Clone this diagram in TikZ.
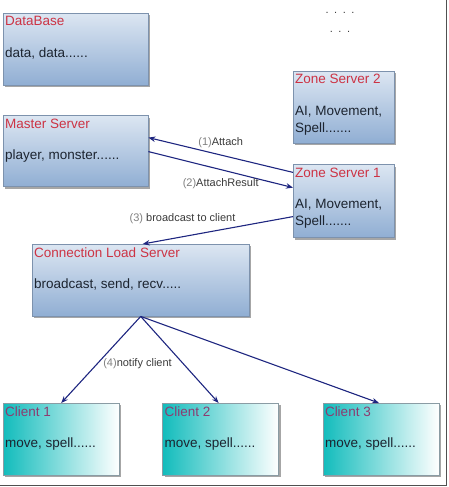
\documentclass[tikz,border=0pt]{standalone}
\usepackage{fontspec}
\setmainfont{Liberation Sans}
\usepackage{xcolor}
\usetikzlibrary{arrows.meta, positioning, calc, shadows}

\definecolor{boxtop}{HTML}{DCE6F2}
\definecolor{boxbottom}{HTML}{90AED3}
\definecolor{boxline}{HTML}{7D92AD}
\definecolor{clientteal}{HTML}{12BCBC}
\definecolor{clientline}{HTML}{8A9CA4}
\definecolor{titlered}{HTML}{CC3344}
\definecolor{clientpurple}{HTML}{8C3C70}
\definecolor{linknavy}{HTML}{1E2680}
\definecolor{bodytext}{HTML}{1C2430}
\definecolor{tagtext}{HTML}{3A3A3A}
\definecolor{framegray}{HTML}{505050}

\begin{document}
\begin{tikzpicture}[
    x=1pt, y=-1pt,
    server/.style={rectangle, draw=boxline, top color=boxtop, bottom color=boxbottom, anchor=north west, inner sep=0pt, minimum height=72pt,
        drop shadow={shadow xshift=2pt, shadow yshift=-2pt, opacity=.35, fill=black}},
    client/.style={server, draw=clientline, left color=clientteal, right color=white, minimum width=116pt},
    title/.style={font=\fontsize{13.5}{17}\selectfont, text=titlered, inner sep=0pt, anchor=base west},
    body/.style={font=\fontsize{13.5}{17}\selectfont, text=bodytext, inner sep=0pt, anchor=base west, align=left},
    link/.style={-{Stealth[length=7pt, width=5.5pt]}, linknavy, line width=1.1pt},
    tag/.style={font=\fontsize{11}{13}\selectfont, text=tagtext, inner sep=0pt}
]
    \useasboundingbox (0,0) rectangle (449,487);

    % servers
    \node[server, minimum width=145pt] (db) at (3,13) {};
    \node[server, minimum width=145pt, minimum height=71pt, below=30pt of db] (ms) {};
    \node[server, minimum width=101pt] (zs2) at (293,71) {};
    \node[server, minimum width=101pt, minimum height=73pt, below=21pt of zs2] (zs1) {};
    \node[server, minimum width=217pt] (cls) at (32,244) {};

    % clients
    \node[client] (c1) at (3,403) {};
    \node[client, right=43pt of c1] (c2) {};
    \node[client, right=44pt of c2] (c3) {};

    \node[title] at ([shift={(2pt,-13pt)}]db.north west) {DataBase};
    \node[body] at ([shift={(2pt,-44pt)}]db.north west) {data, data......};
    \node[title] at ([shift={(2pt,-13pt)}]ms.north west) {Master Server};
    \node[body] at ([shift={(2pt,-44pt)}]ms.north west) {player, monster......};
    \node[title] at ([shift={(2pt,-13pt)}]zs2.north west) {Zone Server 2};
    \node[body] at ([shift={(2pt,-61pt)}]zs2.north west) {AI, Movement,\\Spell.......};
    \node[title] at ([shift={(2pt,-13pt)}]zs1.north west) {Zone Server 1};
    \node[body] at ([shift={(2pt,-61pt)}]zs1.north west) {AI, Movement,\\Spell.......};
    \node[title] at ([shift={(2pt,-13pt)}]cls.north west) {Connection Load Server};
    \node[body] at ([shift={(2pt,-44pt)}]cls.north west) {broadcast, send, recv.....};
    \foreach \c/\n in {c1/1, c2/2, c3/3} {
        \node[title, text=clientpurple] at ([shift={(2pt,-13pt)}]\c.north west) {Client \n};
        \node[body] at ([shift={(2pt,-44pt)}]\c.north west) {move, spell......};
    }

    % more zone servers
    \node[tag, anchor=base] (more1) at (340,14) {.\enspace.\enspace.\enspace.};
    \node[tag, anchor=base] (more2) at (340,33) {.\enspace.\enspace.};

    \draw[link] ([yshift=-8pt]zs1.north west) -- node[tag, pos=.5, above=7pt] {{\color{gray}(1)}Attach} ([yshift=13.5pt]ms.east);
    \draw[link] ([yshift=-0.5pt]ms.east) -- node[tag, pos=.5, below=8pt] {{\color{gray}(2)}AttachResult} ([yshift=13.5pt]zs1.west);
    \draw[link] ([yshift=-15.5pt]zs1.west) -- node[tag, pos=.735, above=12pt] {{\color{gray}(3)} broadcast to client} ([xshift=2pt]cls.north);
    \draw[link] (cls.south) -- node[tag, pos=.54, right=5pt] {{\color{gray}(4)}notify client} (c1.north);
    \draw[link] (cls.south) -- ([xshift=-2pt]c2.north);
    \draw[link] (cls.south) -- ([xshift=-2pt]c3.north);

    % window edge
    \draw[framegray, line width=1.8pt] (446.5,0) -- (446.5,485.5) -- (0,485.5);
\end{tikzpicture}
\end{document}
